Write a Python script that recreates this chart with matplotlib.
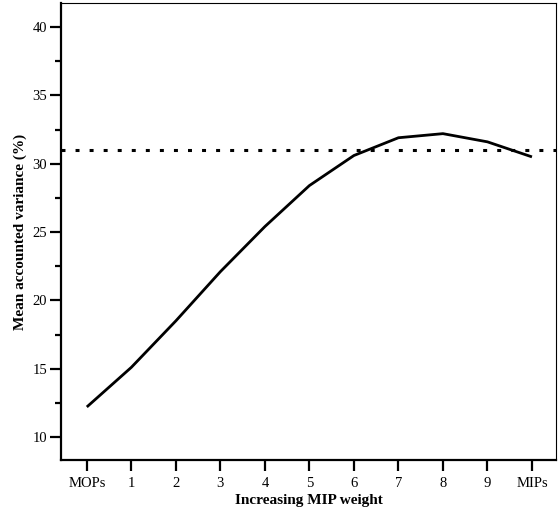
import matplotlib
matplotlib.use("Agg")
import matplotlib.pyplot as plt
from matplotlib.ticker import MultipleLocator

plt.rcParams['font.family'] = ['Liberation Serif', 'DejaVu Serif']

categories = ["MOPs", "1", "2", "3", "4", "5", "6", "7", "8", "9", "MIPs"]
variance = [12.2, 15.1, 18.5, 22.1, 25.4, 28.4, 30.6, 31.9, 32.2, 31.6, 30.5]
reference_level = 31.0

fig = plt.figure(figsize=(5.59, 5.12), dpi=100)
ax = fig.add_axes([61/559, 52/512, 495/559, 457/512])

x = list(range(len(categories)))
ax.plot(x, variance, color='black', lw=2.0, solid_capstyle='butt')
ax.axhline(reference_level, color='black', lw=2.2, linestyle=(0, (1.3, 3.3)))

ax.set_xlim(-0.58, 10.54)
ax.set_ylim(8.32, 41.76)
ax.set_xticks(x)
ax.set_xticklabels(categories)
ax.yaxis.set_major_locator(MultipleLocator(5))
ax.yaxis.set_minor_locator(MultipleLocator(2.5))

for s in ['left', 'bottom']:
    ax.spines[s].set_linewidth(1.6)
for s in ['top', 'right']:
    ax.spines[s].set_linewidth(0.8)

ax.tick_params(axis='both', which='major', direction='out', length=8, width=1.6, labelsize=10.5, pad=2)
ax.tick_params(axis='y', which='minor', direction='out', length=4.5, width=1.6)
ax.tick_params(axis='x', which='major', pad=4)

ax.set_xlabel("Increasing MIP weight", fontsize=11, fontweight='bold', labelpad=3)
ax.set_ylabel("Mean accounted variance (%)", fontsize=11, fontweight='bold', labelpad=4)

fig.savefig("out.png", dpi=100)
